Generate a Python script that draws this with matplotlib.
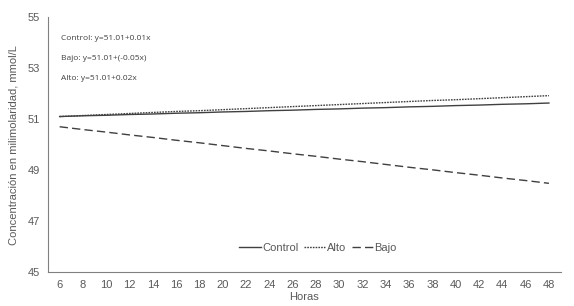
import matplotlib.pyplot as plt

horas = [str(h) for h in range(6, 49, 2)]

control = [51.10, 51.13, 51.15, 51.18, 51.20, 51.23, 51.25, 51.28, 51.30, 51.33, 51.35,
           51.38, 51.40, 51.43, 51.45, 51.48, 51.50, 51.53, 51.55, 51.58, 51.60, 51.63]
alto = [51.10, 51.14, 51.18, 51.22, 51.26, 51.30, 51.33, 51.37, 51.41, 51.45, 51.49,
        51.53, 51.57, 51.61, 51.65, 51.69, 51.73, 51.76, 51.80, 51.84, 51.88, 51.92]
bajo = [50.70, 50.59, 50.49, 50.38, 50.28, 50.17, 50.07, 49.96, 49.85, 49.75, 49.64,
        49.54, 49.43, 49.33, 49.22, 49.11, 49.01, 48.90, 48.80, 48.69, 48.59, 48.48]

ecuaciones = ["Control: y=51.01+0.01x", "Bajo: y=51.01+(-0.05x)", "Alto: y=51.01+0.02x"]

plt.rcParams['font.family'] = ['Liberation Sans', 'DejaVu Sans']
gris = "#595959"

fig = plt.figure(figsize=(5.74, 3.06), dpi=100)
ax = fig.add_axes([0.0836, 0.111, 0.893, 0.833])

x = range(len(horas))
ax.plot(x, control, color="#404040", lw=1.0, label="Control")
ax.plot(x, alto, color="#404040", lw=1.0, linestyle=(0, (1.2, 0.8)), label="Alto")
ax.plot(x, bajo, color="#404040", lw=1.0, linestyle=(0, (6, 3)), label="Bajo")

ax.set_xlim(-0.5, len(horas) - 0.5)
ax.set_ylim(45, 55)
ax.set_yticks([45, 47, 49, 51, 53, 55])
ax.set_xticks(list(x))
ax.set_xticklabels(horas)
ax.tick_params(length=0, labelsize=8, colors=gris, pad=6)

for s in ["top", "right"]:
    ax.spines[s].set_visible(False)
for s in ["left", "bottom"]:
    ax.spines[s].set_color("#808080")
    ax.spines[s].set_linewidth(0.8)

ax.set_xlabel("Horas", fontsize=8, color=gris, labelpad=1)
ax.set_ylabel("Concentración en milimolaridad, mmol/L", fontsize=8, color=gris, labelpad=6)

for i, t in enumerate(ecuaciones):
    ax.text(0.025, 0.915 - i * 0.077, t, transform=ax.transAxes, fontsize=6,
            family=["Open Sans", "DejaVu Sans"], color="#404040", va="center")

leg = ax.legend(loc="center", bbox_to_anchor=(0.527, 0.095), ncol=3, frameon=False,
                fontsize=8, handlelength=1.9, handletextpad=0.15, columnspacing=0.5)
for t in leg.get_texts():
    t.set_color(gris)

fig.savefig("out.png", dpi=100)
